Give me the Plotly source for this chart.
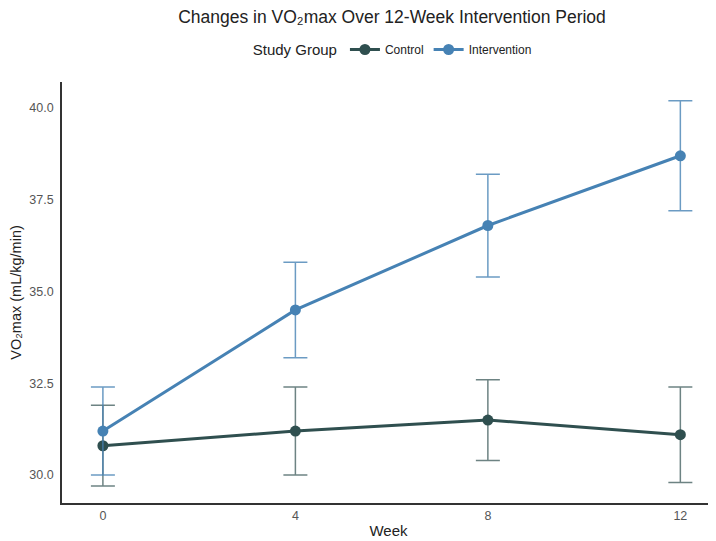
import plotly.graph_objects as go

weeks = [0, 4, 8, 12]
control_mean = [30.8, 31.2, 31.5, 31.1]
control_sd = [1.1, 1.2, 1.1, 1.3]
intervention_mean = [31.2, 34.5, 36.8, 38.7]
intervention_sd = [1.2, 1.3, 1.4, 1.5]
tick_vals_y = [30.0, 32.5, 35.0, 37.5, 40.0]
tick_text_y = ["30.0", "32.5", "35.0", "37.5", "40.0"]

groups = [
    ("Control", control_mean, control_sd, "#2F4F4F", "rgba(47,79,79,0.7)"),
    ("Intervention", intervention_mean, intervention_sd, "#4682B4", "rgba(70,130,180,0.8)"),
]

fig = go.Figure()
for name, mean, sd, col, ecol in groups:
    fig.add_trace(go.Scatter(
        x=weeks, y=mean, name=name, mode="lines+markers",
        line=dict(color=col, width=3),
        marker=dict(color=col, size=11),
        error_y=dict(type="data", array=sd, visible=True, color=ecol,
                     thickness=1.5, width=12),
    ))

W, H = 708, 533
fig.update_layout(
    width=W, height=H,
    paper_bgcolor="white", plot_bgcolor="white",
    font=dict(family="Liberation Sans, Arial, sans-serif", color="#222"),
    margin=dict(l=54, r=1, t=74, b=38),
    title=dict(text="Changes in VO₂max Over 12-Week Intervention Period",
               x=384 / W, xanchor="center", y=1 - 9 / H, yanchor="middle",
               font=dict(size=17.5, color="#222")),
    legend=dict(orientation="h", x=0.508, xanchor="center", y=1.076, yanchor="middle",
                title=dict(text="Study Group", font=dict(size=15, color="#222")),
                font=dict(size=12, color="#222"), itemwidth=30),
    showlegend=True,
)
fig.update_xaxes(
    title=dict(text="Week", font=dict(size=15, color="#222"), standoff=4),
    range=[-0.85, 12.72], tickvals=weeks, ticktext=[str(w) for w in weeks],
    showline=True, linecolor="#333", linewidth=1.8, showgrid=False, zeroline=False,
    ticks="", tickfont=dict(size=12.5, color="#555"), automargin=False,
)
fig.update_yaxes(
    title=dict(text="VO₂max (mL/kg/min)", font=dict(size=14.5, color="#222"), standoff=4),
    range=[29.24, 40.71], tickvals=tick_vals_y, ticktext=tick_text_y,
    showline=True, linecolor="#333", linewidth=1.8, showgrid=False, zeroline=False,
    ticks="", tickfont=dict(size=12.5, color="#555"), ticklabelstandoff=4, automargin=False,
)

fig.write_html("out.html")
